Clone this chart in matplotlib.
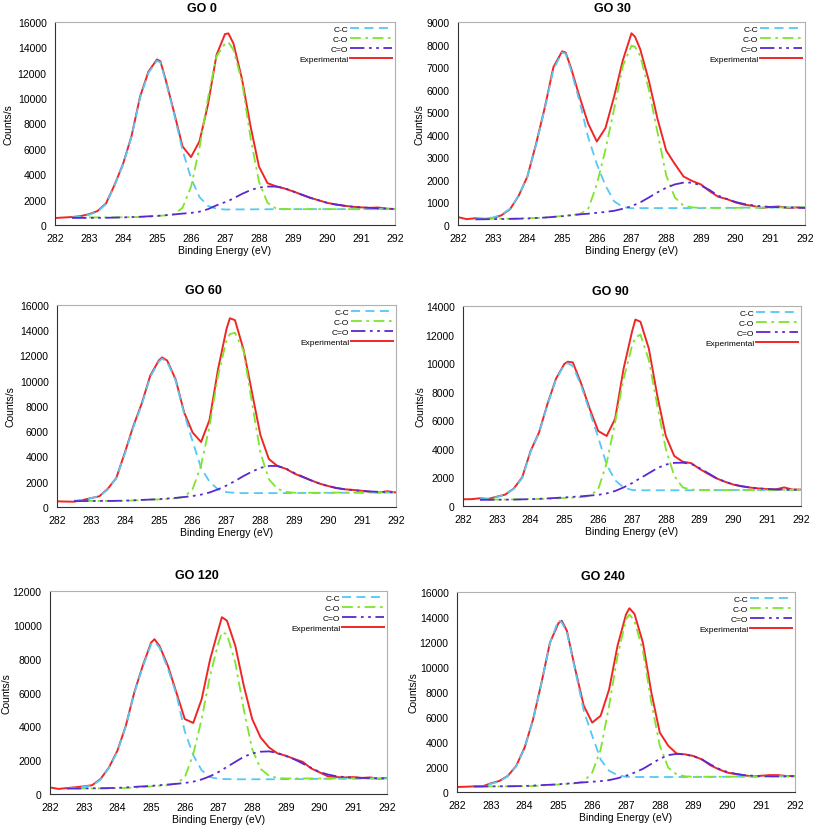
import numpy as np
import matplotlib
matplotlib.use("Agg")  # headless
import matplotlib.pyplot as plt

plt.rcParams["font.family"] = ["Liberation Sans", "DejaVu Sans"]

# binding energy grid (eV)
energy = [282.0, 282.25, 282.5, 282.75, 283.0, 283.25, 283.5, 283.75, 284.0, 284.25, 284.5, 284.75,
          285.0, 285.1, 285.25, 285.5, 285.75, 286.0, 286.25, 286.5, 286.75, 287.0, 287.1, 287.25,
          287.5, 287.75, 288.0, 288.25, 288.5, 288.75, 289.0, 289.25, 289.5, 289.75, 290.0, 290.25,
          290.5, 290.75, 291.0, 291.25, 291.5, 291.75, 292.0]

# GO 0
go0_exp = [550, 590, 630, 700, 850, 1100, 1700, 3150, 4800, 7000, 10100, 12100,
           13050, 12900, 11500, 8900, 6200, 5350, 6600, 9500, 13400, 15050, 15100, 14300,
           11500, 7800, 4600, 3300, 3050, 2880, 2650, 2400, 2150, 1950, 1750, 1620, 1520, 1440, 1390, 1350, 1380, 1290, 1260]
go0_cc = [None, None, 600, 650, 800, 1050, 1650, 3100, 4750, 6950, 10000, 12000,
          12950, 12800, 11400, 8800, 5900, 3700, 2200, 1500, 1280, 1220, 1220, 1230,
          1230, 1230, 1240, 1240, 1250, 1250, 1250, 1250, 1250, 1250, 1250, 1250, 1250, 1250, 1250, 1250, 1250, 1250, 1250]
go0_co = [None, None, None, None, 600, 600, 600, 600, 610, 620, 630, 660,
          700, 730, 760, 850, 1350, 3000, 6100, 10000, 13300, 14300, 14400, 13800,
          11300, 6900, 3400, 1750, 1300, 1260, 1250, 1250, 1250, 1250, 1250, 1250, 1250, 1250, 1250, 1250, 1250, 1250, 1250]
go0_ceo = [None, None, 560, 560, 560, 565, 570, 585, 600, 625, 650, 685,
           720, 740, 770, 830, 900, 950, 1050, 1250, 1550, 1800, 1900, 2100,
           2450, 2750, 2950, 3030, 3030, 2900, 2650, 2400, 2150, 1950, 1750, 1620, 1520, 1440, 1390, 1350, 1320, 1290, 1260]

# GO 30
go30_exp = [350, 260, 300, 270, 300, 430, 700, 1300, 2150, 3600, 5200, 7000,
            7700, 7650, 7000, 5700, 4500, 3700, 4300, 5700, 7300, 8500, 8350, 7800,
            6400, 4700, 3300, 2700, 2150, 1950, 1800, 1500, 1250, 1150, 1000, 900, 850, 750, 800, 820, 750, 780, 750]
go30_cc = [None, None, 270, 290, 330, 450, 720, 1300, 2150, 3550, 5150, 6900,
           7650, 7600, 6900, 5500, 3900, 2700, 1750, 1050, 800, 740, 745, 750,
           750, 750, 750, 750, 750, 750, 750, 760, 760, 760, 760, 770, 770, 770, 770, 780, 780, 780, 780]
go30_co = [None, None, None, 270, 280, 280, 280, 290, 300, 310, 330, 360,
           400, 410, 440, 480, 700, 1800, 3350, 5150, 7050, 7950, 7900, 7500,
           6000, 4100, 2200, 1220, 860, 780, 760, 760, 760, 760, 760, 770, 770, 770, 770, 780, 780, 780, 780]
go30_ceo = [None, None, 250, 255, 260, 265, 270, 280, 290, 310, 330, 360,
            390, 405, 430, 470, 500, 540, 580, 630, 720, 830, 900, 1000,
            1220, 1450, 1650, 1800, 1880, 1880, 1750, 1550, 1300, 1150, 1020, 930, 870, 830, 800, 790, 780, 770, 760]

# GO 60
go60_exp = [450, 430, 420, 550, 700, 850, 1450, 2300, 4300, 6400, 8200, 10400,
            11600, 11850, 11600, 10100, 7500, 5900, 5150, 6900, 10900, 14100, 14950, 14800,
            12500, 9100, 5700, 3800, 3250, 3030, 2650, 2370, 2110, 1850, 1660, 1500, 1400, 1350, 1280, 1200, 1150, 1250, 1150]
go60_cc = [None, None, 500, 550, 700, 850, 1400, 2300, 4200, 6300, 8100, 10300,
           11500, 11750, 11500, 10000, 7400, 5200, 3100, 2000, 1400, 1180, 1150, 1120,
           1100, 1100, 1100, 1100, 1100, 1100, 1100, 1110, 1110, 1120, 1120, 1130, 1130, 1140, 1140, 1150, 1150, 1150, 1150]
go60_co = [None, None, None, 480, 480, 480, 480, 480, 490, 520, 550, 580,
           600, 620, 650, 700, 800, 1400, 3300, 6400, 10400, 13200, 13700, 13800,
           12400, 8300, 4300, 2200, 1450, 1200, 1130, 1130, 1130, 1130, 1130, 1140, 1140, 1140, 1140, 1150, 1150, 1150, 1150]
go60_ceo = [None, None, 470, 470, 480, 480, 480, 490, 500, 530, 560, 590,
            620, 640, 670, 720, 790, 870, 980, 1150, 1400, 1700, 1850, 2050,
            2450, 2800, 3100, 3250, 3250, 3050, 2700, 2400, 2100, 1850, 1650, 1500, 1400, 1330, 1270, 1230, 1200, 1180, 1160]

# GO 90
go90_exp = [470, 480, 540, 500, 650, 800, 1220, 2000, 3850, 5150, 7150, 8900,
            9950, 10100, 10050, 8550, 6800, 5250, 4900, 6100, 9600, 12200, 13050, 12900,
            11000, 7700, 4900, 3500, 3100, 3000, 2600, 2250, 1930, 1700, 1500, 1380, 1290, 1230, 1180, 1160, 1300, 1150, 1150]
go90_cc = [None, None, 480, 500, 620, 800, 1200, 1950, 3800, 5100, 7100, 8850,
           9900, 10000, 9800, 8400, 6600, 4800, 2900, 1800, 1300, 1120, 1110, 1100,
           1100, 1100, 1100, 1100, 1100, 1100, 1110, 1110, 1110, 1110, 1120, 1120, 1120, 1120, 1120, 1130, 1130, 1130, 1130]
go90_co = [None, None, None, 450, 450, 450, 460, 470, 480, 490, 500, 530,
           560, 570, 590, 620, 700, 1170, 3000, 5850, 8900, 11200, 11800, 12000,
           10200, 7000, 4000, 2100, 1300, 1150, 1120, 1120, 1120, 1120, 1120, 1120, 1120, 1120, 1120, 1130, 1130, 1130, 1130]
go90_ceo = [None, None, 430, 435, 440, 445, 450, 465, 480, 505, 530, 565,
            600, 615, 640, 680, 730, 780, 880, 1050, 1300, 1600, 1750, 1950,
            2300, 2650, 2900, 3020, 3030, 2950, 2650, 2300, 1950, 1700, 1500, 1380, 1290, 1230, 1190, 1160, 1150, 1140, 1140]

# GO 120
go120_exp = [390, 300, 350, 400, 450, 520, 890, 1570, 2560, 4030, 6000, 7570,
             8950, 9150, 8750, 7570, 6000, 4430, 4200, 5600, 7950, 9750, 10450, 10250,
             8750, 6400, 4430, 3340, 2750, 2400, 2260, 2070, 1900, 1510, 1280, 1040, 1000, 980, 1000, 950, 980, 900, 950]
go120_cc = [None, None, 330, 380, 420, 500, 850, 1550, 2500, 4000, 5950, 7500,
            8850, 9000, 8650, 7400, 5900, 3700, 2300, 1400, 1000, 900, 890, 880,
            870, 870, 870, 870, 870, 870, 880, 880, 880, 890, 890, 900, 900, 900, 910, 910, 910, 920, 920]
go120_co = [None, None, None, 330, 330, 330, 330, 335, 340, 360, 380, 410,
            450, 465, 490, 520, 620, 980, 2350, 4430, 7000, 8950, 9550, 9450,
            7750, 5000, 2650, 1480, 1080, 950, 920, 920, 920, 920, 920, 920, 920, 920, 920, 920, 920, 920, 920]
go120_ceo = [None, None, 320, 325, 330, 335, 340, 350, 360, 390, 420, 450,
             480, 495, 520, 560, 600, 650, 730, 860, 1050, 1300, 1420, 1600,
             1900, 2200, 2400, 2500, 2520, 2430, 2250, 2050, 1800, 1550, 1300, 1150, 1050, 1000, 970, 950, 940, 930, 920]

# GO 240
go240_exp = [400, 420, 450, 450, 690, 880, 1280, 2080, 3550, 5800, 8750, 11950,
             13500, 13700, 12900, 9800, 6900, 5550, 6100, 8200, 11700, 14200, 14700, 14250,
             11950, 7950, 4750, 3700, 3070, 3010, 2880, 2600, 2130, 1810, 1550, 1430, 1330, 1250, 1300, 1350, 1350, 1280, 1280]
go240_cc = [None, None, 450, 480, 650, 850, 1250, 2050, 3500, 5750, 8700, 11900,
            13750, 13550, 12800, 9700, 6500, 4500, 2600, 1700, 1350, 1220, 1210, 1200,
            1200, 1200, 1200, 1200, 1200, 1200, 1200, 1210, 1210, 1220, 1220, 1230, 1230, 1240, 1240, 1250, 1250, 1250, 1250]
go240_co = [None, None, None, 450, 450, 450, 450, 450, 460, 480, 520, 560,
            600, 620, 650, 700, 850, 1550, 3400, 6900, 10900, 13800, 14200, 13700,
            11300, 7150, 3700, 1950, 1400, 1250, 1220, 1220, 1220, 1220, 1220, 1230, 1230, 1230, 1240, 1240, 1250, 1250, 1250]
go240_ceo = [None, None, 440, 445, 450, 455, 460, 470, 480, 510, 550, 580,
             620, 640, 670, 720, 770, 820, 870, 950, 1100, 1300, 1400, 1550,
             1850, 2250, 2650, 2950, 3050, 3000, 2850, 2600, 2200, 1850, 1600, 1450, 1350, 1300, 1270, 1260, 1250, 1250, 1250]

titles = ["GO 0", "GO 30", "GO 60", "GO 90", "GO 120", "GO 240"]
series = [
    (go0_cc, go0_co, go0_ceo, go0_exp),
    (go30_cc, go30_co, go30_ceo, go30_exp),
    (go60_cc, go60_co, go60_ceo, go60_exp),
    (go90_cc, go90_co, go90_ceo, go90_exp),
    (go120_cc, go120_co, go120_ceo, go120_exp),
    (go240_cc, go240_co, go240_ceo, go240_exp),
]
y_max = [16000, 9000, 16000, 14000, 12000, 16000]
y_step = [2000, 1000, 2000, 2000, 2000, 2000]

# layout in pixels (left, top, right, bottom), title centre, y-label right edge
W, H = 813, 828
boxes = [(55, 23, 395, 226), (458, 23, 805, 226),
         (57, 306, 396, 508), (463, 307, 801, 507),
         (50, 592, 387, 795), (457, 593, 795, 793)]
title_pos = [(202, 9), (612, 9), (203, 291), (610, 292), (197, 576), (603, 577)]
ylabel_x = [14, 424, 16, 426, 12, 418]

C_CC = "#55c8f5"
C_CO = "#7de62c"
C_CEO = "#5a28d2"
C_EXP = "#f02626"

fig = plt.figure(figsize=(W / 100, H / 100), dpi=100)
x = np.array(energy)

for i in range(6):
    l, t, r, b = boxes[i]
    ax = fig.add_axes([l / W, 1 - b / H, (r - l) / W, (b - t) / H])
    cc, co, ceo, ex = [np.array(s, dtype=float) for s in series[i]]

    h_cc, = ax.plot(x, cc, color=C_CC, lw=1.3, ls=(0, (5, 3)), zorder=3)
    h_co, = ax.plot(x, co, color=C_CO, lw=1.3, ls=(0, (6, 2.5, 1.5, 2.5)), zorder=3)
    h_ceo, = ax.plot(x, ceo, color=C_CEO, lw=1.3, ls=(0, (8, 2.5, 1.5, 2.5, 1.5, 2.5)), zorder=3)
    h_exp, = ax.plot(x, ex, color=C_EXP, lw=1.4, zorder=2)

    ax.set_xlim(282, 292)
    ax.set_ylim(0, y_max[i])
    ax.set_xticks(np.arange(282, 293, 1))
    ax.set_yticks(np.arange(0, y_max[i] + 1, y_step[i]))
    ax.tick_params(length=0, labelsize=7.5)
    ax.tick_params(axis="x", pad=6)
    ax.tick_params(axis="y", pad=6)
    ax.set_xlabel("Binding Energy (eV)", fontsize=7.5, labelpad=1)
    ax.set_ylabel("Counts/s", fontsize=7.5)
    ax.yaxis.set_label_coords((ylabel_x[i] - l) / (r - l), 0.5)
    for s in ["left", "bottom"]:
        ax.spines[s].set_color("#333333")
        ax.spines[s].set_linewidth(0.8)
    for s in ["top", "right"]:
        ax.spines[s].set_color("#b0b0b0")
        ax.spines[s].set_linewidth(0.8)

    ax.legend([h_cc, h_co, h_ceo, h_exp], ["C-C", "C-O", "C=O", "Experimental"],
              loc="upper right", frameon=False, fontsize=6, markerfirst=False,
              handlelength=5, handletextpad=0.2, labelspacing=0.25,
              borderaxespad=0.2, borderpad=0.2)

    tx, ty = title_pos[i]
    fig.text(tx / W, 1 - ty / H, titles[i], ha="center", va="center",
             fontsize=9, fontweight="bold")

fig.savefig("out.png", dpi=100)
